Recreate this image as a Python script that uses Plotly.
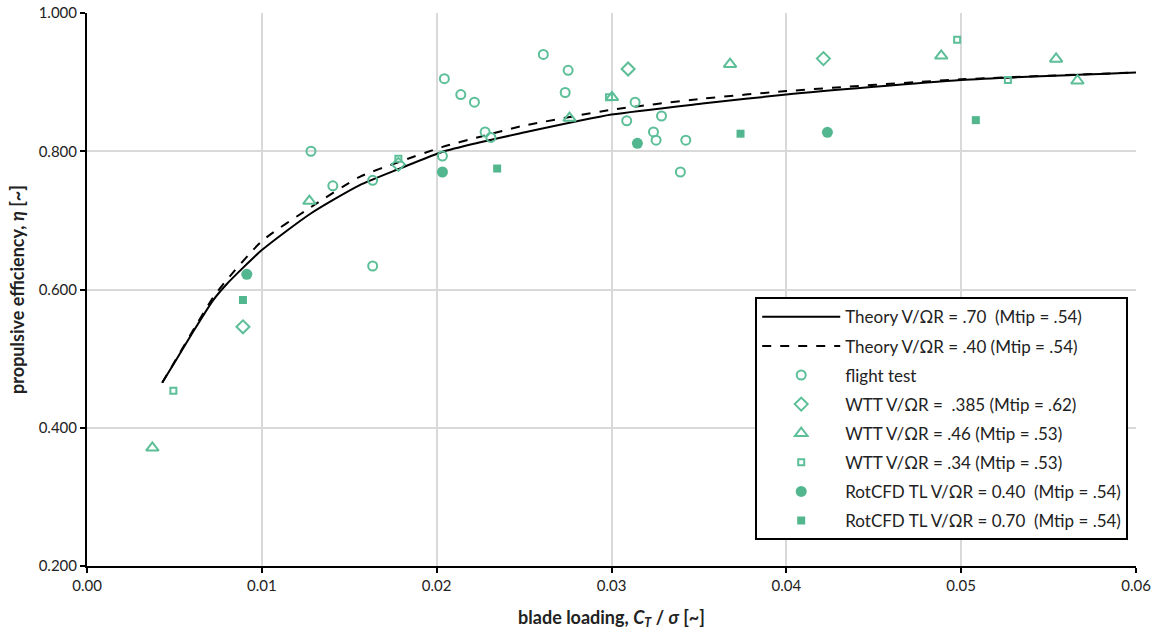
import plotly.graph_objects as go

# ---------------- data ----------------
theory70_x = [0.0043, 0.0050, 0.0060, 0.0072, 0.0080, 0.0100, 0.0128, 0.0156, 0.0179, 0.0203,
              0.0225, 0.0248, 0.0300, 0.0352, 0.0400, 0.0500, 0.0600]
theory70_y = [0.465, 0.494, 0.536, 0.584, 0.608, 0.657, 0.710, 0.751, 0.775, 0.799,
              0.813, 0.826, 0.853, 0.869, 0.882, 0.903, 0.914]
theory40_x = theory70_x
theory40_y = [0.465, 0.495, 0.538, 0.588, 0.614, 0.670, 0.719, 0.763, 0.785, 0.806,
              0.821, 0.836, 0.860, 0.876, 0.887, 0.904, 0.914]

flight_x = [0.01281, 0.01406, 0.01634, 0.01634, 0.02033, 0.02044, 0.02138, 0.02216, 0.02277, 0.02310,
            0.02610, 0.02735, 0.02752, 0.03087, 0.03135, 0.03240, 0.03255, 0.03286, 0.03394, 0.03425]
flight_y = [0.800, 0.750, 0.758, 0.634, 0.793, 0.905, 0.882, 0.871, 0.828, 0.820,
            0.940, 0.885, 0.917, 0.844, 0.871, 0.828, 0.816, 0.851, 0.770, 0.816]

wtt385_x = [0.00892, 0.01781, 0.03095, 0.04212]
wtt385_y = [0.546, 0.781, 0.919, 0.934]

wtt46_x = [0.00374, 0.01272, 0.02760, 0.03003, 0.03678, 0.04886, 0.05543, 0.05665]
wtt46_y = [0.371, 0.728, 0.848, 0.878, 0.926, 0.938, 0.9335, 0.902]

wtt34_x = [0.00494, 0.01781, 0.02986, 0.04977, 0.05267]
wtt34_y = [0.4536, 0.789, 0.878, 0.9614, 0.903]

cfd40_x = [0.00914, 0.02033, 0.03148, 0.04235]
cfd40_y = [0.622, 0.770, 0.8115, 0.8274]

cfd70_x = [0.00892, 0.02346, 0.03738, 0.05084]
cfd70_y = [0.5848, 0.775, 0.8254, 0.845]

x_ticks = [0.00, 0.01, 0.02, 0.03, 0.04, 0.05, 0.06]
y_ticks = [0.2, 0.4, 0.6, 0.8, 1.0]

# ---------------- styling ----------------
GREEN = "#5cbf98"
GREEN_F = "#52b78f"
FONT = "Lato"

fig = go.Figure()

fig.add_trace(go.Scatter(x=theory70_x, y=theory70_y, mode="lines", name="Theory V/ΩR = .70  (Mtip = .54)",
                         line=dict(color="black", width=2, shape="spline", smoothing=0.6),
                         legendgroup="a"))
fig.add_trace(go.Scatter(x=theory40_x, y=theory40_y, mode="lines", name="Theory V/ΩR = .40 (Mtip = .54)",
                         line=dict(color="black", width=2, dash="dash", shape="spline", smoothing=0.6),
                         legendgroup="b"))
fig.add_trace(go.Scatter(x=flight_x, y=flight_y, mode="markers", name="flight test",
                         marker=dict(symbol="circle-open", size=9, color=GREEN, line=dict(width=2, color=GREEN)),
                         legendgroup="c"))
fig.add_trace(go.Scatter(x=wtt385_x, y=wtt385_y, mode="markers", name="WTT V/ΩR =  .385 (Mtip = .62)",
                         marker=dict(symbol="diamond-open", size=10, color=GREEN, line=dict(width=2, color=GREEN)),
                         legendgroup="d"))
fig.add_trace(go.Scatter(x=wtt46_x, y=wtt46_y, mode="markers", name="WTT V/ΩR = .46 (Mtip = .53)",
                         marker=dict(symbol="triangle-up-open", size=11, color=GREEN, line=dict(width=2, color=GREEN)),
                         legendgroup="e"))
fig.add_trace(go.Scatter(x=wtt34_x, y=wtt34_y, mode="markers", name="WTT V/ΩR = .34 (Mtip = .53)",
                         marker=dict(symbol="square-open", size=6, color=GREEN, line=dict(width=2, color=GREEN)),
                         legendgroup="f"))
fig.add_trace(go.Scatter(x=cfd40_x, y=cfd40_y, mode="markers", name="RotCFD TL V/ΩR = 0.40  (Mtip = .54)",
                         marker=dict(symbol="circle", size=11, color=GREEN_F),
                         legendgroup="g"))
fig.add_trace(go.Scatter(x=cfd70_x, y=cfd70_y, mode="markers", name="RotCFD TL V/ΩR = 0.70  (Mtip = .54)",
                         marker=dict(symbol="square", size=8, color=GREEN_F),
                         legendgroup="h"))

axis_common = dict(showline=True, linecolor="black", linewidth=2, ticks="outside", ticklen=5,
                   tickwidth=2, tickcolor="black", showgrid=True, gridcolor="#d9d9d9", gridwidth=2,
                   zeroline=False, automargin=False, ticklabeloverflow="allow",
                   tickfont=dict(family=FONT, size=15, color="#222"))

fig.update_xaxes(range=[0, 0.06], tickvals=x_ticks, tickformat=".2f",
                 title=dict(text="<b>blade loading, <i>C<sub>T</sub></i> / <i>σ</i> [~]</b>",
                            font=dict(family=FONT, size=18, color="#222"), standoff=18),
                 **axis_common)
fig.update_yaxes(range=[0.2, 1.0], tickvals=y_ticks, tickformat=".3f",
                 title=dict(text="<b>propulsive efficiency, <i>η</i> [~]</b>",
                            font=dict(family=FONT, size=18, color="#222"), standoff=9),
                 **axis_common)

fig.update_layout(
    width=1157, height=635,
    margin=dict(l=87, r=21, t=13, b=69),
    plot_bgcolor="white", paper_bgcolor="white",
    font=dict(family=FONT, color="#222"),
    legend=dict(x=0.637, y=0.486, xanchor="left", yanchor="top",
                bgcolor="white", bordercolor="black", borderwidth=2,
                font=dict(family=FONT, size=17, color="#222"),
                tracegroupgap=4, itemwidth=78),
    showlegend=True,
)

fig.write_html("out.html", config={"displayModeBar": False},
               post_script="document.body.style.margin='0';document.body.style.overflow='hidden';")
